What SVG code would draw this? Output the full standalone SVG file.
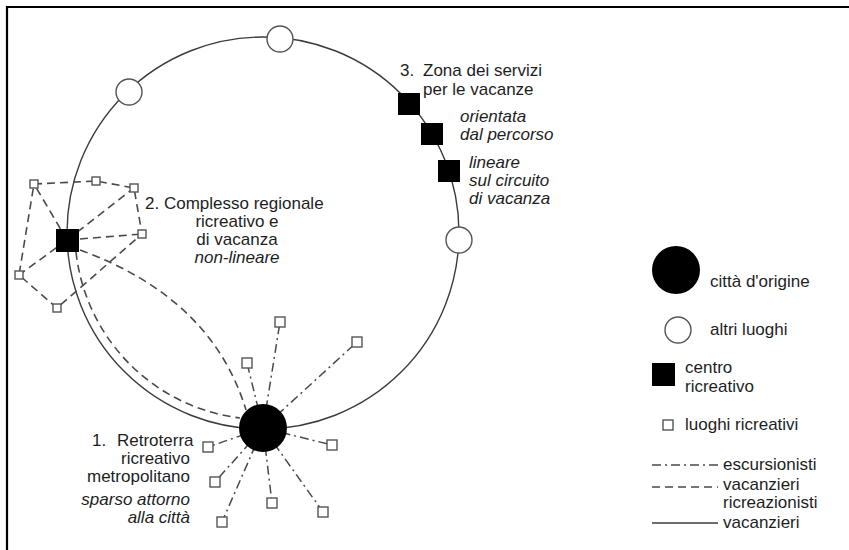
<svg xmlns="http://www.w3.org/2000/svg" width="849" height="550" viewBox="0 0 849 550">
<style>
text{font-family:"Liberation Sans",Arial,sans-serif;font-size:17px;fill:#1e1e1e}
.it{font-style:italic}
.ring{fill:none;stroke:#3c3c3c;stroke-width:1.4}
.dash{fill:none;stroke:#4a4a4a;stroke-width:1.6;stroke-dasharray:8 5}
.dd{fill:none;stroke:#4a4a4a;stroke-width:1.5;stroke-dasharray:9 4 2 4}
.solid{fill:none;stroke:#3c3c3c;stroke-width:1.4}
.place{fill:#fff;stroke:#555;stroke-width:1.4}
.spot{fill:#fff;stroke:#555;stroke-width:1.4}
.blk{fill:#000}
</style>
<rect x="0" y="0" width="849" height="550" fill="#fff"/>
<path d="M7,550 V7 H849" fill="none" stroke="#000" stroke-width="2.2"/>

<g id="connectors">
  <circle class="ring" cx="263" cy="233" r="196"/>
  <path class="dash" d="M76,252 A188,188 0 0 0 240,418"/>
  <path class="dash" d="M80,250 Q212,298 246,410"/>
  <path class="dash" d="M67,240 L34,184"/>
  <path class="dash" d="M67,240 L134,188"/>
  <path class="dash" d="M67,240 L142,234"/>
  <path class="dash" d="M67,240 L19,275"/>
  <path class="dash" d="M34,184 L96,181 L134,188 L142,234 L57,308 L19,275 Z"/>
  <path class="dd" d="M263,428 L280,322"/>
  <path class="dd" d="M263,428 L357,342"/>
  <path class="dd" d="M263,428 L247,363"/>
  <path class="dd" d="M263,428 L332,445"/>
  <path class="dd" d="M263,428 L208,447"/>
  <path class="dd" d="M263,428 L215,482"/>
  <path class="dd" d="M263,428 L272,503"/>
  <path class="dd" d="M263,428 L323,512"/>
  <path class="dd" d="M263,428 L222,522"/>
</g>

<g id="city"><circle class="blk" cx="263" cy="428" r="24"/></g>
<g id="place-top"><circle class="place" cx="280" cy="39" r="13"/></g>
<g id="place-left"><circle class="place" cx="129" cy="92" r="13"/></g>
<g id="place-right"><circle class="place" cx="459" cy="240" r="13"/></g>
<g id="center-regional"><rect class="blk" x="56" y="229" width="23" height="23"/></g>
<g id="center-1"><rect class="blk" x="398" y="93" width="22" height="22"/></g>
<g id="center-2"><rect class="blk" x="421" y="123" width="22" height="22"/></g>
<g id="center-3"><rect class="blk" x="438" y="160" width="22" height="22"/></g>

<g id="spots-regional">
  <rect class="spot" x="30" y="180" width="8" height="8"/>
  <rect class="spot" x="92" y="177" width="8" height="8"/>
  <rect class="spot" x="130" y="184" width="8" height="8"/>
  <rect class="spot" x="138" y="230" width="8" height="8"/>
  <rect class="spot" x="15" y="271" width="8" height="8"/>
  <rect class="spot" x="53" y="304" width="8" height="8"/>
</g>
<g id="spots-metro">
  <rect class="spot" x="275" y="317" width="10" height="10"/>
  <rect class="spot" x="352" y="337" width="10" height="10"/>
  <rect class="spot" x="242" y="358" width="10" height="10"/>
  <rect class="spot" x="327" y="440" width="10" height="10"/>
  <rect class="spot" x="203" y="442" width="10" height="10"/>
  <rect class="spot" x="210" y="477" width="10" height="10"/>
  <rect class="spot" x="267" y="498" width="10" height="10"/>
  <rect class="spot" x="318" y="507" width="10" height="10"/>
  <rect class="spot" x="217" y="517" width="10" height="10"/>
</g>

<g id="label-1">
  <text><tspan x="92" y="446">1.</tspan><tspan x="117" y="446">Retroterra</tspan></text>
  <text x="190" y="464" text-anchor="end">ricreativo</text>
  <text x="190" y="482" text-anchor="end">metropolitano</text>
  <text class="it" x="190" y="505" text-anchor="end">sparso attorno</text>
  <text class="it" x="190" y="523" text-anchor="end">alla città</text>
</g>
<g id="label-2">
  <text x="145" y="209">2. Complesso regionale</text>
  <text x="237" y="227" text-anchor="middle">ricreativo e</text>
  <text x="237" y="245" text-anchor="middle">di vacanza</text>
  <text class="it" x="237" y="263" text-anchor="middle">non-lineare</text>
</g>
<g id="label-3">
  <text><tspan x="400" y="76">3.</tspan><tspan x="423" y="76">Zona dei servizi</tspan></text>
  <text x="423" y="95">per le vacanze</text>
  <text class="it" x="460" y="122">orientata</text>
  <text class="it" x="460" y="140">dal percorso</text>
  <text class="it" x="469" y="168">lineare</text>
  <text class="it" x="469" y="186">sul circuito</text>
  <text class="it" x="469" y="204">di vacanza</text>
</g>

<g id="legend">
  <circle class="blk" cx="676" cy="270" r="24"/>
  <text x="710" y="287">città d'origine</text>
  <circle class="place" cx="678" cy="330" r="13"/>
  <text x="710" y="335">altri luoghi</text>
  <rect class="blk" x="652" y="363" width="23" height="23"/>
  <text x="685" y="373">centro</text>
  <text x="685" y="392">ricreativo</text>
  <rect class="spot" x="663" y="420" width="10" height="10"/>
  <text x="685" y="430">luoghi ricreativi</text>
  <path class="dd" d="M652,465 H718"/>
  <text x="723" y="470">escursionisti</text>
  <path class="dash" d="M652,487 H718"/>
  <text x="723" y="490">vacanzieri</text>
  <text x="723" y="508">ricreazionisti</text>
  <path class="solid" d="M652,523 H718"/>
  <text x="723" y="528">vacanzieri</text>
</g>
</svg>
